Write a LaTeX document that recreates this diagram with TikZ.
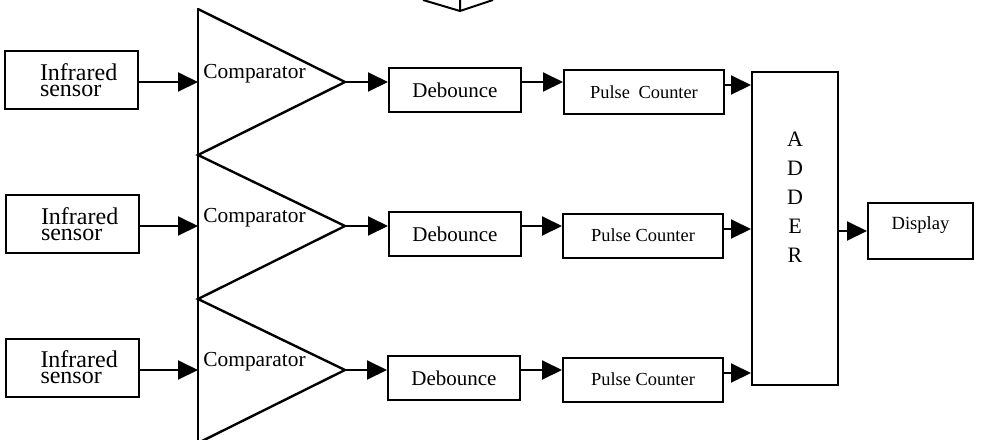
\documentclass[tikz,border=0pt]{standalone}
\usepackage{fontspec}
\setmainfont{Liberation Serif}
\usetikzlibrary{arrows.meta}
\tikzset{
  blk/.style={draw,line width=1pt,inner sep=0pt},
  sensor/.style={blk,minimum width=66.5pt,minimum height=29pt,text width=31.5pt,align=left,font=\fontsize{12}{8}\selectfont},
  deb/.style={blk,minimum width=66pt,minimum height=22pt,font=\fontsize{10.5}{12}\selectfont},
  counter/.style={blk,minimum width=80pt,minimum height=22pt,font=\fontsize{9.2}{11}\selectfont},
  adderbox/.style={blk,minimum width=43pt,minimum height=156.5pt},
  disp/.style={blk,minimum width=52.5pt,minimum height=28pt,font=\fontsize{9.3}{11}\selectfont,text height=6.5pt,text depth=8.5pt},
  cmptext/.style={anchor=base west,inner sep=0pt,font=\fontsize{10.7}{12}\selectfont},
  comp/.style={line width=1.2pt,line join=miter},
  arr/.style={line width=1pt,-{Triangle[length=10pt,width=9.5pt]}},
}
\begin{document}
\begin{tikzpicture}[x=0.5pt,y=-0.5pt]
  \useasboundingbox (0,0) rectangle (982,440);
  \coordinate (r1) at (0,82);
  \coordinate (r2) at (0,226);
  \coordinate (r3) at (0,370);
  % comparators
  \coordinate (c1in) at (198,82);
  \coordinate (c2in) at (198,226);
  \coordinate (c3in) at (198,370);
  \coordinate (c1) at (345,82);
  \coordinate (c2) at (345,226);
  \coordinate (c3) at (345,370);
  \draw[comp] (198,8) -- (198,443);
  \draw[comp] (198,9) -- (c1) -- (198,155) -- (c2) -- (198,299) -- (c3) -- (198,443);
  \node[cmptext] (t1) at (203,78) {Comparator};
  \node[cmptext] (t2) at (203,222) {Comparator};
  \node[cmptext] (t3) at (203,366) {Comparator};
  % cut-off shape at the top
  \draw[line width=1pt] (423,0) -- (460,11) -- (493,0) (460,0) -- (460,11);
  % blocks
  \node[sensor] (s1) at (71.5,80) {Infrared\\sensor};
  \node[sensor] (s2) at (72.5,224) {Infrared\\sensor};
  \node[sensor] (s3) at (72,367.5) {Infrared\\sensor};
  \node[deb] (deb1) at (455,90) {Debounce};
  \node[deb] (deb2) at (455,234) {Debounce};
  \node[deb] (deb3) at (454,378) {Debounce};
  \node[counter] (pc1) at (644,92) {Pulse\hspace{2pt} Counter};
  \node[counter] (pc2) at (643,235.5) {Pulse Counter};
  \node[counter] (pc3) at (643,379.5) {Pulse Counter};
  \node[adderbox] (adder) at (795,228.5) {};
  \node[align=center,inner sep=0pt,font=\fontsize{11}{14.5}\selectfont] (addtxt) at (795,197) {A\\D\\D\\E\\R};
  \node[disp] (display) at (920.5,231) {Display};
  % connections
  \begin{scope}[arr]
    \draw (s1.east |- r1) -- (c1in);
    \draw (s2.east |- r2) -- (c2in);
    \draw (s3.east |- r3) -- (c3in);
    \draw (c1) -- (c1 -| deb1.west);
    \draw (c2) -- (c2 -| deb2.west);
    \draw (c3) -- (c3 -| deb3.west);
    \draw (deb1.east |- r1) -- (pc1.west |- r1);
    \draw (deb2.east |- r2) -- (pc2.west |- r2);
    \draw (deb3.east |- r3) -- (pc3.west |- r3);
    \draw ([yshift=-1.5pt]pc1.east |- r1) -- ([yshift=-1.5pt]adder.west |- r1);
    \draw ([yshift=-1.5pt]pc2.east |- r2) -- ([yshift=-1.5pt]adder.west |- r2);
    \draw ([yshift=-1.5pt]pc3.east |- r3) -- ([yshift=-1.5pt]adder.west |- r3);
    \draw (adder.east |- display) -- (display);
  \end{scope}
\end{tikzpicture}
\end{document}
